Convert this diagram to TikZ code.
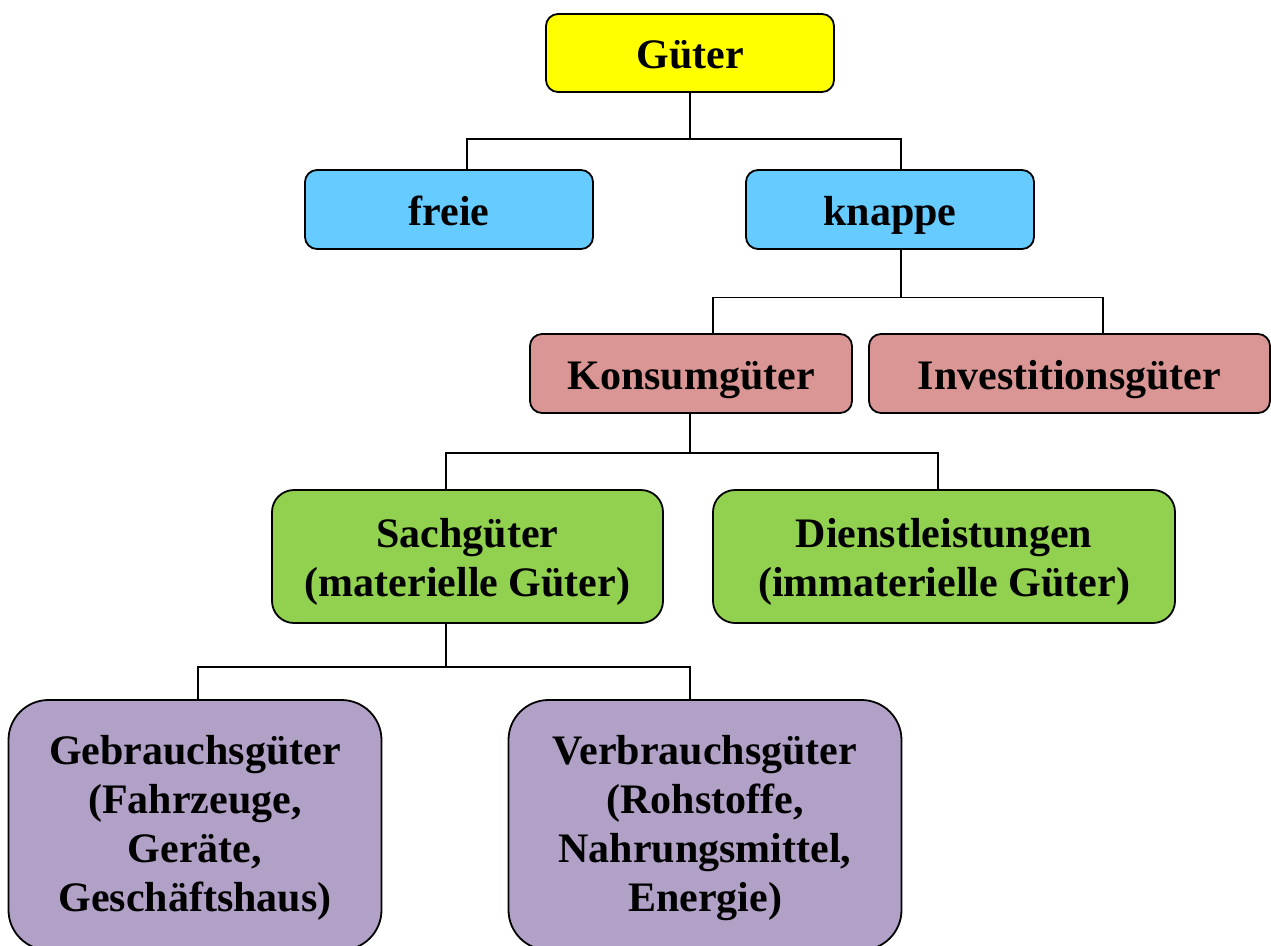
\documentclass[tikz,border=0pt]{standalone}
\usepackage{fontspec}
\setmainfont{Liberation Serif}
\definecolor{cYellow}{HTML}{FFFF00}
\definecolor{cBlue}{HTML}{66CCFF}
\definecolor{cRose}{HTML}{D99694}
\definecolor{cGreen}{HTML}{92D050}
\definecolor{cPurple}{HTML}{B2A1C7}
\newcommand{\toppad}[1]{\rule{0pt}{#1}}
\begin{document}
\begin{tikzpicture}[x=1pt,y=-1pt,
  box/.style={draw=black, line width=1.8pt, inner sep=0pt, align=center,
    font=\bfseries\fontsize{42}{49}\selectfont},
  small/.style={box, rounded corners=12pt, text height=31pt, text depth=0pt},
  mid/.style={box, rounded corners=22pt},
  big/.style={box, rounded corners=40pt},
  link/.style={draw=black, line width=1.8pt}]
\useasboundingbox (0,0) rectangle (1271,945);
\begin{scope}
\clip (0,0) rectangle (1271,945);
\node[small, fill=cYellow, minimum width=288pt, minimum height=78pt] (gueter) at (690,53) {Güter};
\node[small, fill=cBlue, minimum width=288pt, minimum height=79pt] (freie) at (449,209.5) {freie};
\node[small, fill=cBlue, minimum width=288pt, minimum height=79pt] (knappe) at (890,209.5) {knappe};
\node[small, fill=cRose, minimum width=322pt, minimum height=79pt] (konsum) at (691,373.5) {Konsumgüter};
\node[small, fill=cRose, minimum width=401pt, minimum height=79pt] (invest) at (1069.5,373.5) {Investitionsgüter};
\node[mid, fill=cGreen, minimum width=391pt, minimum height=133pt] (sach) at (467.5,556.5) {\toppad{40pt}Sachgüter\\(materielle Güter)};
\node[mid, fill=cGreen, minimum width=462pt, minimum height=133pt] (dienst) at (944,556.5) {\toppad{40pt}Dienstleistungen\\(immaterielle Güter)};
\node[big, fill=cPurple, minimum width=373pt, minimum height=250pt] (gebrauch) at (195,825) {\toppad{35pt}Gebrauchsgüter\\(Fahrzeuge,\\Geräte,\\Geschäftshaus)};
\node[big, fill=cPurple, minimum width=393pt, minimum height=250pt] (verbrauch) at (705,825) {\toppad{35pt}Verbrauchsgüter\\(Rohstoffe,\\Nahrungsmittel,\\Energie)};
\end{scope}
% connectors
\draw[link] (gueter.south) -- ++(0,46) coordinate (j1);
\draw[link] ([xshift=18pt]freie.north) |- (j1) -| ([xshift=11pt]knappe.north);
\draw[link] ([xshift=11pt]knappe.south) -- ++(0,47.5) coordinate (j2);
\draw[link] ([xshift=22pt]konsum.north) |- (j2) -| ([xshift=33.5pt]invest.north);
\draw[link] ([xshift=-1pt]konsum.south) -- ++(0,39) coordinate (j3);
\draw[link] ([xshift=-21.5pt]sach.north) |- (j3) -| ([xshift=-6pt]dienst.north);
\draw[link] ([xshift=-21.5pt]sach.south) -- ++(0,43) coordinate (j4);
\draw[link] ([xshift=3pt]gebrauch.north) |- (j4) -| ([xshift=-15pt]verbrauch.north);
\end{tikzpicture}
\end{document}
